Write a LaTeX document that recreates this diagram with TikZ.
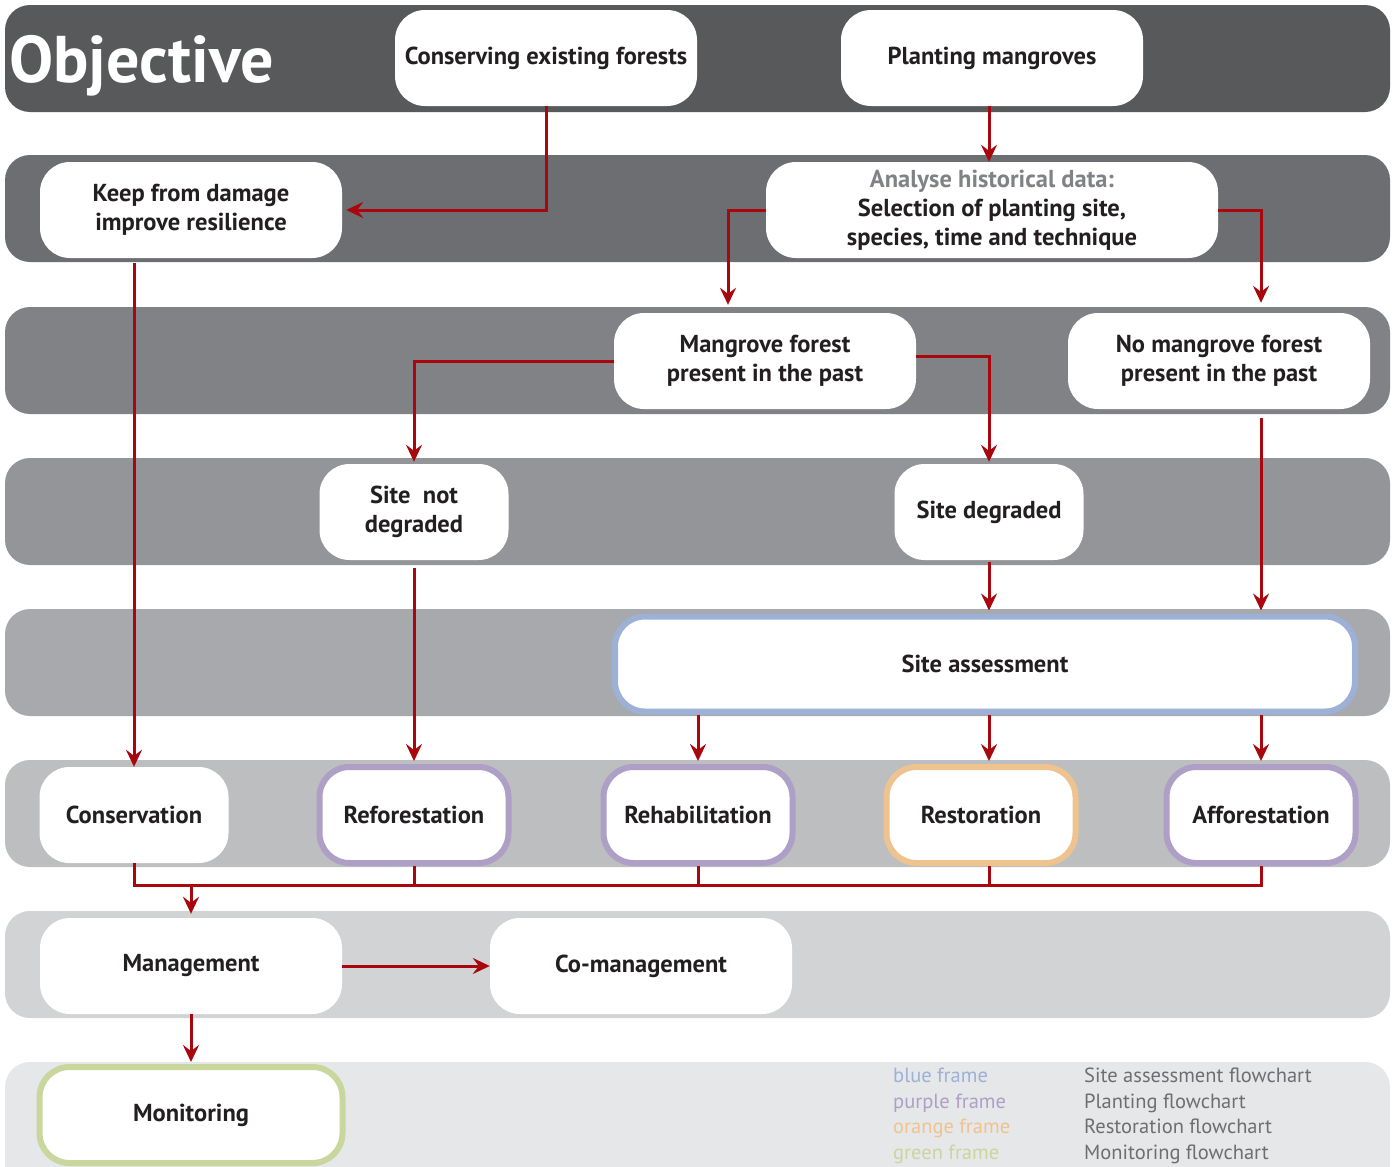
\documentclass[tikz,border=0pt]{standalone}
\usepackage{fontspec}
\setmainfont{PT Sans}
\usetikzlibrary{calc,arrows.meta}

\definecolor{bandA}{HTML}{58595B}
\definecolor{bandB}{HTML}{6D6E71}
\definecolor{bandC}{HTML}{808285}
\definecolor{bandD}{HTML}{939598}
\definecolor{bandE}{HTML}{A7A9AC}
\definecolor{bandF}{HTML}{BCBEC0}
\definecolor{bandG}{HTML}{D1D3D4}
\definecolor{bandH}{HTML}{E6E7E8}
\definecolor{flowred}{HTML}{A8070D}
\definecolor{inktext}{HTML}{231F20}
\definecolor{frameblue}{HTML}{9DB1D6}
\definecolor{framepurple}{HTML}{AE9FC6}
\definecolor{frameorange}{HTML}{EEC38F}
\definecolor{framegreen}{HTML}{C9D69E}
\definecolor{legendgrey}{HTML}{6D6E71}

\tikzset{
  box/.style={fill=white, rounded corners=30pt, align=center, text=inktext,
    font=\fontsize{24.5}{29}\selectfont\bfseries, minimum height=96pt, inner sep=0pt},
  wide/.style={box, minimum width=302pt},
  narrow/.style={box, minimum width=189pt},
  framed/.style={line width=6pt, draw=#1},
  flow/.style={draw=flowred, line width=3pt, -{Stealth[length=17pt,width=16pt,inset=6pt]}},
  bus/.style={draw=flowred, line width=3pt},
  legend/.style={anchor=base west, font=\fontsize{20.5}{22}\selectfont, inner sep=0pt}
}

\begin{document}
\begin{tikzpicture}[x=1pt, y=-1pt]
  \useasboundingbox (0,0) rectangle (1395,1167);
  \clip (0,0) rectangle (1395,1167);

  % background bands
  \foreach \top/\shade in {5/bandA,155/bandB,307/bandC,458/bandD,609/bandE,760/bandF,911/bandG}
    \fill[\shade, rounded corners=25pt] (5,\top) rectangle (1390,\top+107);
  \fill[bandH, rounded corners=25pt] (5,1062) rectangle (1390,1200);

  \node[anchor=base west, text=white, font=\fontsize{66}{66}\selectfont\bfseries, inner sep=0pt] (obj) at (9,82) {Objective};

  % objectives
  \node[wide] (cons) at (546,58) {Conserving existing forests};
  \node[wide] (plant) at (992,58) {Planting mangroves};

  \node[wide] (keep) at (191,210) {Keep from damage\\improve resilience};
  \node[box, minimum width=452pt] (ana) at (992,210) {{\color{bandC}Analyse historical data:}\\Selection of planting site,\\species, time and technique};

  \node[wide] (mang) at (765,361) {Mangrove forest\\present in the past};
  \node[wide] (nomang) at (1219,361) {No mangrove forest\\present in the past};

  \node[narrow] (notdeg) at (414,512) {Site~~not\\degraded};
  \node[narrow] (deg) at (989,512) {Site degraded};

  \node[box, framed=frameblue, minimum width=740pt, minimum height=95pt] (sa) at (985,664) {Site assessment};

  % outcomes
  \node[narrow] (con) at (134,815) {Conservation};
  \node[narrow, framed=framepurple] (ref) at (414,815) {Reforestation};
  \node[narrow, framed=framepurple] (reh) at (698,815) {Rehabilitation};
  \node[narrow, framed=frameorange] (res) at (981,815) {Restoration};
  \node[narrow, framed=framepurple] (aff) at (1261,815) {Afforestation};

  \node[wide] (man) at (191,966) {Management};
  \node[wide] (coman) at (641,966) {Co-management};
  \node[box, framed=framegreen, minimum width=303pt] (mon) at (191,1115) {Monitoring};

  \coordinate (join) at (0,885);

  % connectors
  \draw[flow] (cons.south) |- ([xshift=4pt]keep.east);
  \draw[flow] (plant.south -| deg.north) -- (ana.north -| deg.north);
  \draw[flow] (ana.west) -| ([xshift=-37pt,yshift=8pt]mang.north);
  \draw[flow] (ana.east) -| ([yshift=10pt]aff.north |- nomang.north);
  \draw[flow] (mang.west) -| ([yshift=2pt]notdeg.north);
  \draw[flow] ([yshift=5pt]mang.east) -| ([yshift=2pt]deg.north);
  \draw[flow] ([yshift=-9pt]aff.north |- nomang.south) -- ([yshift=3pt]aff.north |- sa.north);
  \draw[flow] ([yshift=-2pt]deg.south) -- ([yshift=3pt]deg.south |- sa.north);
  \draw[flow] ([yshift=-5pt]con.north |- keep.south) -- (con.north);
  \draw[flow] ([yshift=-8pt]notdeg.south) -- ([yshift=3pt]ref.north);
  \draw[flow] (sa.south -| reh.north) -- ([yshift=3pt]reh.north);
  \draw[flow] (sa.south -| deg.north) -- ([yshift=3pt]res.north -| deg.north);
  \draw[flow] (sa.south -| aff.north) -- ([yshift=3pt]aff.north);

  \draw[bus] (con.south) -- (con.south |- join) -- (aff.south |- join) -- (aff.south);
  \foreach \n in {ref,reh,aff}
    \draw[bus] (\n.south) -- (\n.south |- join);
  \draw[bus] (res.south -| deg.north) -- (join -| deg.north);
  \draw[flow] (man.north |- join) -- ([yshift=4pt]man.north);
  \draw[flow] (man.east) -- (coman.west);
  \draw[flow] (man.south) -- ([yshift=2pt]mon.north);

  % legend
  \node[legend, text=frameblue] (lb) at (893,1082) {blue frame};
  \node[legend, text=framepurple] (lp) at (893,1108) {purple frame};
  \node[legend, text=frameorange] (lo) at (893,1133) {orange frame};
  \node[legend, text=framegreen] (lg) at (893,1159) {green frame};
  \node[legend, text=legendgrey] (tb) at (1084,1082) {Site assessment flowchart};
  \node[legend, text=legendgrey] (tp) at (1084,1108) {Planting flowchart};
  \node[legend, text=legendgrey] (to) at (1084,1133) {Restoration flowchart};
  \node[legend, text=legendgrey] (tg) at (1084,1159) {Monitoring flowchart};
\end{tikzpicture}
\end{document}
